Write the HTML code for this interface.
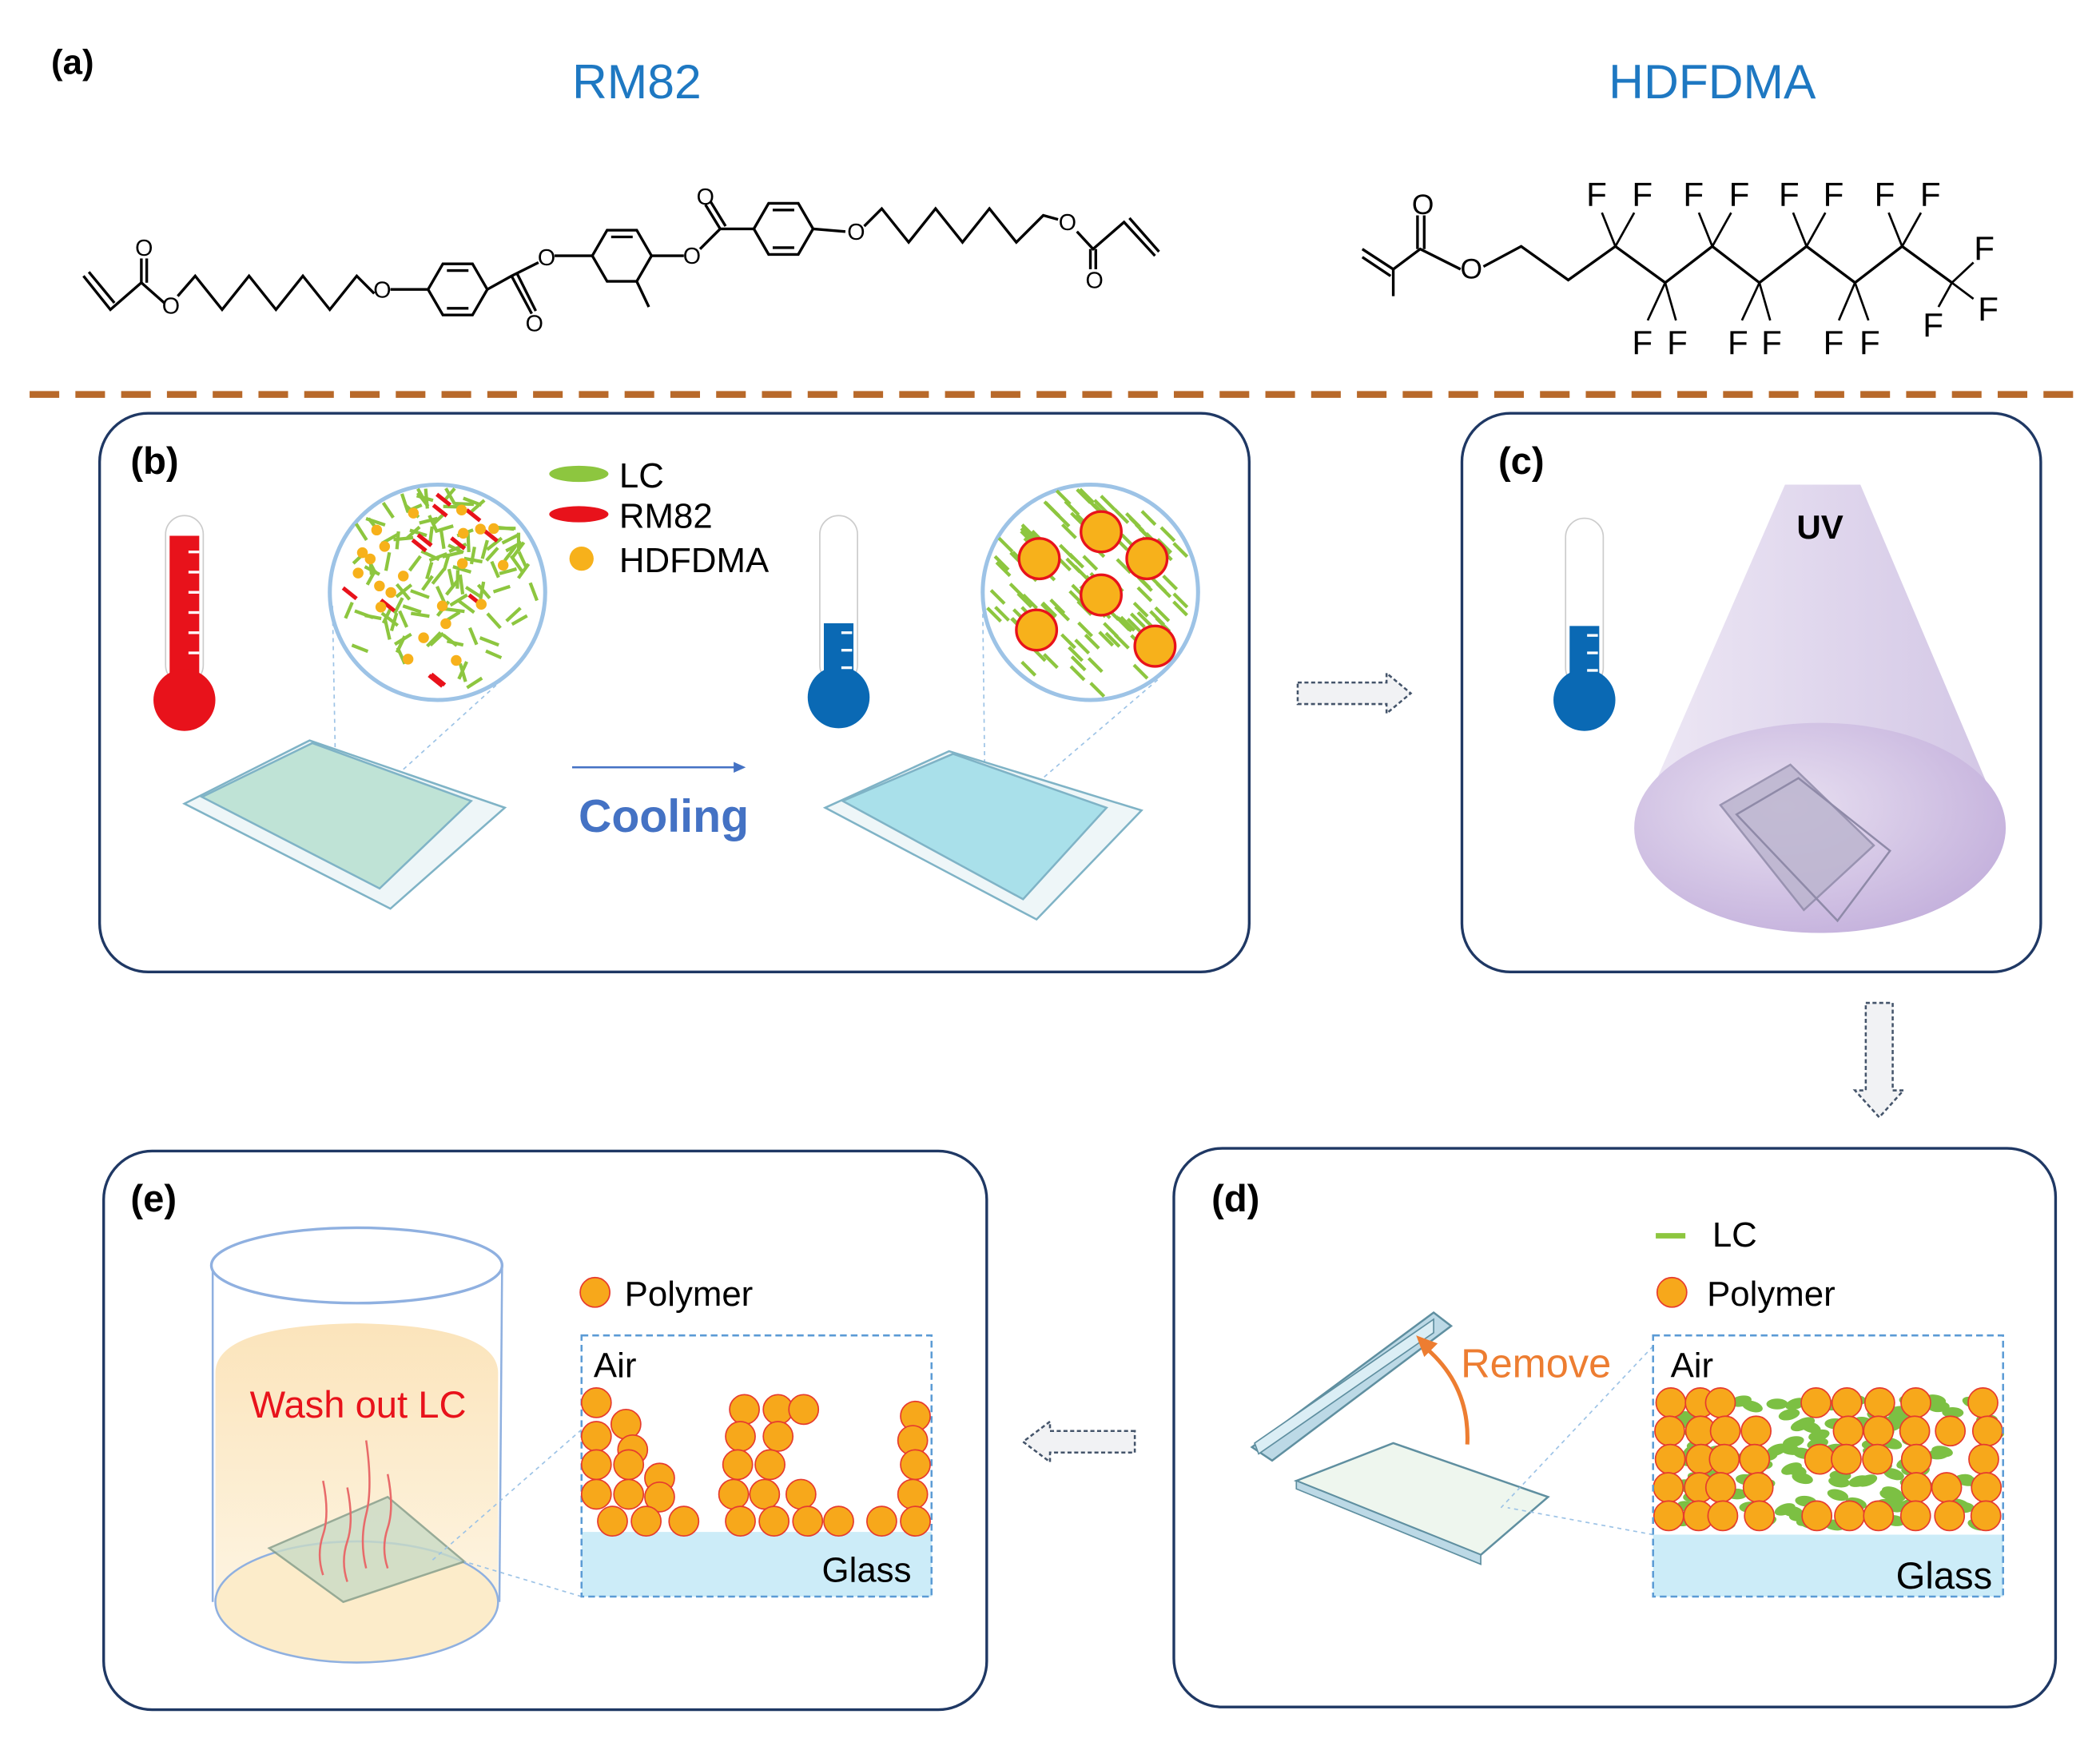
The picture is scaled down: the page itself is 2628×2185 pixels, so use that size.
<!DOCTYPE html>
<html><head><meta charset="utf-8"><style>
html,body{margin:0;padding:0;background:#fff}
svg{display:block}
text{font-family:"Liberation Sans",Arial,sans-serif}
</style></head><body>
<svg id="s" width="2628" height="2185" viewBox="0 0 1560 1297" preserveAspectRatio="none" xmlns="http://www.w3.org/2000/svg">
<defs>
<linearGradient id="uv" x1="0" y1="0" x2="1" y2="0"><stop offset="0" stop-color="#ece6f4"/><stop offset="1" stop-color="#cdbfe2"/></linearGradient>
<radialGradient id="uvb" cx="0.4" cy="0.4" r="0.7"><stop offset="0" stop-color="#e8e0f1"/><stop offset="1" stop-color="#c2aedb"/></radialGradient>
<linearGradient id="liq" x1="0" y1="0" x2="0" y2="1"><stop offset="0" stop-color="#fbe4bb"/><stop offset="1" stop-color="#fef8ea"/></linearGradient>
</defs>
<rect width="1560" height="1297" fill="#fff"/>
<text x="38" y="55" font-size="26" font-weight="bold">(a)</text>
<text x="473" y="73" font-size="36" fill="#1e78c2" text-anchor="middle">RM82</text>
<text x="1272" y="73" font-size="36" fill="#1e78c2" text-anchor="middle">HDFDMA</text>
<g stroke="#000" stroke-width="2" fill="none">
<polyline points="62,205 82,230 105,210 122,225"/>
<line x1="66" y1="202" x2="85" y2="225"/>
<line x1="105" y1="210" x2="105" y2="192"/><line x1="109" y1="210" x2="109" y2="192"/>
<polyline points="132,220 145,205 165,230 185,205 205,230 225,205 245,230 265,205 278,218"/>
<polyline points="290,215 318,215"/>
<polygon points="318,215 329,196 351,196 362,215 351,234 329,234"/>
<line x1="332" y1="201" x2="348" y2="201"/><line x1="332" y1="229" x2="348" y2="229"/>
<polyline points="362,215 380,205 400,195"/>
<line x1="380" y1="205" x2="395" y2="233"/><line x1="384" y1="203" x2="398" y2="231"/>
<polyline points="412,190 440,190"/>
<polygon points="440,190 451,171 473,171 484,190 473,209 451,209"/>
<line x1="454" y1="176" x2="470" y2="176"/>
<line x1="473" y1="209" x2="482" y2="228"/>
<polyline points="484,190 508,190"/>
<polyline points="520,185 535,170 560,170"/>
<line x1="535" y1="170" x2="524" y2="152"/><line x1="539" y1="168" x2="528" y2="150"/>
<polygon points="560,170 571,151 593,151 604,170 593,189 571,189"/>
<line x1="574" y1="156" x2="590" y2="156"/><line x1="574" y1="184" x2="590" y2="184"/>
<line x1="604" y1="170" x2="628" y2="172"/>
<polyline points="642,168 655,155 675,180 695,155 715,180 735,155 755,180 775,160 786,163"/>
<polyline points="800,172 812,185 835,165 858,190"/>
<line x1="839" y1="162" x2="861" y2="187"/>
<line x1="810" y1="185" x2="810" y2="200"/><line x1="814" y1="185" x2="814" y2="200"/>
<polyline points="1012,185 1035,200 1055,185 1085,200"/>
<line x1="1012" y1="191" x2="1033" y2="205"/>
<line x1="1035" y1="200" x2="1035" y2="220"/>
<line x1="1053" y1="185" x2="1053" y2="160"/><line x1="1058" y1="185" x2="1058" y2="160"/>
<polyline points="1102,198 1130,183 1165,208 1200,183 1237,210 1272,183 1307,210 1342,183 1378,210 1413,183 1450,210"/>
<g stroke-width="1.6">
<line x1="1200" y1="183" x2="1190" y2="158"/><line x1="1200" y1="183" x2="1214" y2="158"/>
<line x1="1272" y1="183" x2="1262" y2="158"/><line x1="1272" y1="183" x2="1286" y2="158"/>
<line x1="1342" y1="183" x2="1332" y2="158"/><line x1="1342" y1="183" x2="1356" y2="158"/>
<line x1="1413" y1="183" x2="1403" y2="158"/><line x1="1413" y1="183" x2="1427" y2="158"/>
<line x1="1237" y1="210" x2="1224" y2="238"/><line x1="1237" y1="210" x2="1245" y2="238"/>
<line x1="1307" y1="210" x2="1294" y2="238"/><line x1="1307" y1="210" x2="1315" y2="238"/>
<line x1="1378" y1="210" x2="1366" y2="238"/><line x1="1378" y1="210" x2="1388" y2="238"/>
<line x1="1450" y1="210" x2="1466" y2="195"/><line x1="1450" y1="210" x2="1466" y2="222"/><line x1="1450" y1="210" x2="1440" y2="228"/>
</g>
</g>
<g font-size="17" text-anchor="middle">
<text x="107" y="190">O</text><text x="127" y="233">O</text><text x="284" y="221">O</text><text x="397" y="246">O</text><text x="406" y="197">O</text><text x="514" y="196">O</text><text x="524" y="152">O</text><text x="636" y="178">O</text><text x="793" y="171">O</text><text x="813" y="214">O</text>
<text x="1057" y="159" font-size="21">O</text><text x="1093" y="207" font-size="21">O</text>
</g>
<g font-size="25" text-anchor="middle">
<text x="1186" y="153">F</text><text x="1220" y="153">F</text><text x="1258" y="153">F</text><text x="1292" y="153">F</text><text x="1329" y="153">F</text><text x="1362" y="153">F</text><text x="1400" y="153">F</text><text x="1434" y="153">F</text>
<text x="1220" y="263">F</text><text x="1246" y="263">F</text><text x="1291" y="263">F</text><text x="1316" y="263">F</text><text x="1362" y="263">F</text><text x="1389" y="263">F</text>
<text x="1474" y="193">F</text><text x="1477" y="238">F</text><text x="1436" y="250">F</text>
</g>
<line x1="22" y1="293" x2="1540" y2="293" stroke="#b8692a" stroke-width="5" stroke-dasharray="22,12"/>
<g fill="none" stroke="#1f3864" stroke-width="2">
<rect x="74" y="307" width="854" height="415" rx="36"/>
<rect x="1086" y="307" width="430" height="415" rx="36"/>
<rect x="77" y="855" width="656" height="415" rx="36"/>
<rect x="872" y="853" width="655" height="415" rx="36"/>
</g>
<g fill="#f1f2f4" stroke="#44546a" stroke-width="1.5" stroke-dasharray="3,2">
<polygon points="964,507 1030,507 1030,500 1048,515 1030,530 1030,523 964,523"/>
<polygon points="1386,745 1406,745 1406,810 1414,810 1396,830 1378,810 1386,810"/>
<polygon points="843,1063 780,1063 780,1056 760,1071 780,1086 780,1079 843,1079"/>
</g>
<text x="97" y="352" font-size="28" font-weight="bold">(b)</text>
<g>
<rect x="123" y="383" width="28" height="125" rx="14" fill="#fff" stroke="#ccc"/>
<rect x="126" y="398" width="22" height="110" fill="#e8121b"/>
<circle cx="137" cy="520" r="23" fill="#e8121b"/>
<g stroke="#fff" stroke-width="2"><line x1="140" y1="410" x2="148" y2="410"/><line x1="140" y1="425" x2="148" y2="425"/><line x1="140" y1="440" x2="148" y2="440"/><line x1="140" y1="455" x2="148" y2="455"/><line x1="140" y1="470" x2="148" y2="470"/><line x1="140" y1="485" x2="148" y2="485"/></g>
<rect x="609" y="383" width="28" height="125" rx="14" fill="#fff" stroke="#ccc"/>
<rect x="612" y="463" width="22" height="45" fill="#0a69b4"/>
<circle cx="623" cy="518" r="23" fill="#0a69b4"/>
<g stroke="#fff" stroke-width="2"><line x1="625" y1="470" x2="633" y2="470"/><line x1="625" y1="483" x2="633" y2="483"/><line x1="625" y1="496" x2="633" y2="496"/></g>
<rect x="1163" y="385" width="28" height="125" rx="14" fill="#fff" stroke="#ccc"/>
<rect x="1166" y="465" width="22" height="45" fill="#0a69b4"/>
<circle cx="1177" cy="520" r="23" fill="#0a69b4"/>
<g stroke="#fff" stroke-width="2"><line x1="1179" y1="472" x2="1187" y2="472"/><line x1="1179" y1="485" x2="1187" y2="485"/><line x1="1179" y1="498" x2="1187" y2="498"/></g>
</g>
<circle cx="325" cy="440" r="80" fill="#fff" stroke="#9dc3e6" stroke-width="3"/>
<circle cx="810" cy="440" r="80" fill="#fff" stroke="#9dc3e6" stroke-width="3"/>
<g id="c1"></g><g id="c2"></g>
<g stroke="#9dc3e6" stroke-dasharray="3,3" fill="none"><line x1="247" y1="450" x2="250" y2="612"/><line x1="373" y1="505" x2="255" y2="612"/><line x1="730" y1="450" x2="732" y2="612"/><line x1="860" y1="505" x2="735" y2="612"/></g>
<ellipse cx="430" cy="352" rx="22" ry="6" fill="#8dc63f"/>
<ellipse cx="430" cy="382" rx="22" ry="6" fill="#e8121b"/>
<circle cx="432" cy="415" r="9" fill="#f7b11b"/>
<g font-size="26"><text x="460" y="362">LC</text><text x="460" y="392">RM82</text><text x="460" y="425">HDFDMA</text></g>
<g stroke="#7fb3c6" stroke-width="1.5">
<polygon points="137,597 230,550 375,600 290,675" fill="#eef6f8"/>
<polygon points="150,592 232,552 350,595 282,660" fill="#bfe3d6"/>
<polygon points="613,600 705,558 848,602 770,683" fill="#eef6f8"/>
<polygon points="626,595 708,560 822,600 760,668" fill="#a9e0ea"/>
</g>
<line x1="425" y1="570" x2="548" y2="570" stroke="#4472c4" stroke-width="1.5"/>
<polygon points="554,570 545,566 545,574" fill="#4472c4"/>
<text x="493" y="618" font-size="34" font-weight="bold" fill="#4472c4" text-anchor="middle">Cooling</text>
<text x="1113" y="352" font-size="28" font-weight="bold">(c)</text>
<polygon points="1326,360 1382,360 1490,615 1215,615" fill="url(#uv)" opacity="0.9"/>
<ellipse cx="1352" cy="615" rx="138" ry="78" fill="url(#uvb)"/>
<polygon points="1278,598 1330,568 1392,628 1340,676" fill="#bcb5cf" stroke="#8f8aa8" stroke-width="1.5" opacity="0.85"/>
<polygon points="1290,605 1336,578 1404,632 1365,684" fill="none" stroke="#8f8aa8" stroke-width="1.5"/>
<text x="1352" y="400" font-size="25" font-weight="bold" text-anchor="middle">UV</text>
<text x="97" y="900" font-size="28" font-weight="bold">(e)</text>
<path d="M160,1020 Q160,985 265,983 Q370,985 370,1020 L370,1190 A105,45 0 0 1 160,1190 Z" fill="url(#liq)"/>
<ellipse cx="265" cy="1190" rx="105" ry="45" fill="#fcecca" stroke="#8fb0e0" stroke-width="1.5"/>
<line x1="158" y1="940" x2="158" y2="1190" stroke="#8fb0e0" stroke-width="1.5"/>
<line x1="373" y1="940" x2="371" y2="1190" stroke="#8fb0e0" stroke-width="1.5"/>
<ellipse cx="265" cy="940" rx="108" ry="28" fill="#fff" stroke="#8fb0e0" stroke-width="2"/>
<text x="266" y="1053" font-size="28" fill="#e8121b" text-anchor="middle">Wash out LC</text>
<polygon points="200,1150 288,1112 345,1160 255,1190" fill="#c9dbc6" stroke="#7f9a88" stroke-width="1.5" opacity="0.8"/>
<g stroke="#e86a6a" fill="none" stroke-width="1.5"><path d="M240,1170 q-5,-15 0,-30 t0,-40"/><path d="M258,1175 q-5,-15 0,-30 t0,-40"/><path d="M272,1165 q-5,-20 0,-40 t0,-55"/><path d="M288,1165 q-5,-15 0,-30 t0,-40"/></g>
<g stroke="#9dc3e6" stroke-dasharray="3,3"><line x1="432" y1="1062" x2="320" y2="1160"/><line x1="432" y1="1186" x2="345" y2="1160"/></g>
<rect x="432" y="1138" width="260" height="48" fill="#ccecf8"/>
<rect x="432" y="992" width="260" height="194" fill="none" stroke="#5b9bd5" stroke-width="1.5" stroke-dasharray="5,3"/>
<circle cx="442" cy="960" r="11" fill="#f7a81b" stroke="#e63b2e"/>
<text x="464" y="970" font-size="26">Polymer</text>
<text x="441" y="1023" font-size="26">Air</text>
<text x="677" y="1175" font-size="26" text-anchor="end">Glass</text>
<g id="pe"></g>
<text x="900" y="900" font-size="28" font-weight="bold">(d)</text>
<line x1="1230" y1="918" x2="1252" y2="918" stroke="#8dc63f" stroke-width="4"/>
<text x="1272" y="926" font-size="26">LC</text>
<circle cx="1242" cy="960" r="11" fill="#f7a81b" stroke="#e63b2e"/>
<text x="1268" y="970" font-size="26">Polymer</text>
<polygon points="930,1075 1065,975 1078,985 945,1085" fill="#bcd9e6" stroke="#5f8fa0" stroke-width="1.5"/>
<polygon points="932,1072 1065,980 1065,990 935,1080" fill="#dbeef5" stroke="#5f8fa0"/>
<polygon points="963,1100 1035,1072 1150,1112 1100,1155" fill="#eef6ee" stroke="#5f8fa0" stroke-width="1.5"/>
<polygon points="963,1100 1100,1155 1100,1162 963,1106" fill="#bcd9e6" stroke="#5f8fa0"/>
<path d="M1090,1073 Q1092,1030 1060,1002" fill="none" stroke="#ed7d31" stroke-width="3"/>
<polygon points="1052,992 1068,998 1058,1008" fill="#ed7d31"/>
<text x="1141" y="1023" font-size="30" fill="#ed7d31" text-anchor="middle">Remove</text>
<g stroke="#9dc3e6" stroke-dasharray="3,3"><line x1="1228" y1="1000" x2="1115" y2="1120"/><line x1="1228" y1="1140" x2="1120" y2="1120"/></g>
<rect x="1228" y="1140" width="260" height="46" fill="#ccecf8"/>
<g id="pd"></g>
<rect x="1228" y="992" width="260" height="194" fill="none" stroke="#5b9bd5" stroke-width="1.5" stroke-dasharray="5,3"/>
<text x="1241" y="1023" font-size="26">Air</text>
<text x="1480" y="1180" font-size="28" text-anchor="end">Glass</text>
</svg>
<script>
var NS="http://www.w3.org/2000/svg";
var seed=7;function r(){seed=(seed*16807)%2147483647;return seed/2147483647;}
function el(p,t,a){var e=document.createElementNS(NS,t);for(var k in a)e.setAttribute(k,a[k]);p.appendChild(e);return e;}
var c1=document.getElementById('c1'),c2=document.getElementById('c2');
for(var i=0;i<110;i++){var a=r()*6.28,d=Math.sqrt(r())*74,x=325+d*Math.cos(a),y=440+d*Math.sin(a);
el(c1,'line',{x1:x-6,y1:y-3+r()*6-3,x2:x+6,y2:y+3,stroke:'#8dc63f','stroke-width':2.5,transform:'rotate('+(r()*180)+' '+x+' '+y+')'});}
for(var i=0;i<12;i++){var a=r()*6.28,d=Math.sqrt(r())*70,x=325+d*Math.cos(a),y=440+d*Math.sin(a);
el(c1,'line',{x1:x-5,y1:y-4,x2:x+5,y2:y+4,stroke:'#e8121b','stroke-width':3});}
for(var i=0;i<22;i++){var a=r()*6.28,d=Math.sqrt(r())*70;el(c1,'circle',{cx:325+d*Math.cos(a),cy:440+d*Math.sin(a),r:4,fill:'#f7b11b'});}
for(var i=0;i<120;i++){var a=r()*6.28,d=Math.sqrt(r())*74,x=810+d*Math.cos(a),y=440+d*Math.sin(a);
el(c2,'line',{x1:x-5,y1:y-5,x2:x+5,y2:y+5,stroke:'#8dc63f','stroke-width':2.5});}
[[818,395],[772,415],[852,415],[818,442],[770,468],[858,480]].forEach(function(p){el(c2,'circle',{cx:p[0],cy:p[1],r:15,fill:'#f7b11b',stroke:'#e8121b','stroke-width':2});});
function poly(g,x,y){el(g,'circle',{cx:x,cy:y,r:11,fill:'#f7a81b',stroke:'#e63b2e'});}
var pe=document.getElementById('pe');
[[443,1042],[465,1058],[443,1067],[470,1077],[443,1088],[467,1088],[490,1098],[443,1110],[467,1110],[490,1112],[455,1130],[480,1130],[508,1130],
[553,1047],[578,1047],[597,1047],[550,1067],[578,1067],[548,1088],[572,1088],[545,1110],[568,1110],[595,1110],[550,1130],[575,1130],[600,1130],[623,1130],
[680,1052],[678,1070],[680,1088],[678,1110],[655,1130],[680,1130]].forEach(function(p){poly(pe,p[0],p[1]);});
var pd=document.getElementById('pd');
for(var i=0;i<130;i++){var x=1245+r()*238,y=1040+r()*95;el(pd,'ellipse',{cx:x,cy:y,rx:8,ry:4,fill:'#7cc043',transform:'rotate('+(-20+r()*40)+' '+x+' '+y+')'});}
var cols=[1240,1262,1280,1305,1350,1372,1395,1422,1448,1475];
for(var ci=0;ci<cols.length;ci++){for(var y=1042;y<=1130;y+=21){if(r()<0.72||y>1120)poly(pd,cols[ci]+(r()*4-2),y);}}
</script>
</body></html>
